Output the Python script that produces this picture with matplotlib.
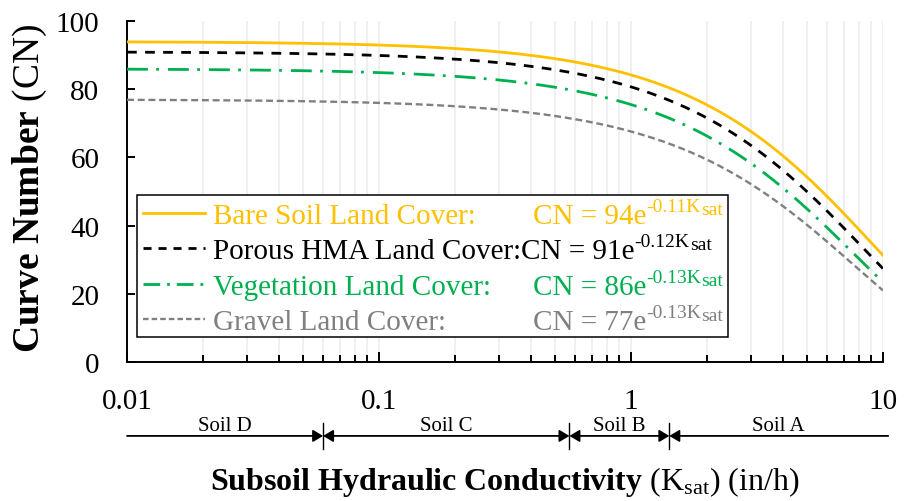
import numpy as np
import matplotlib
matplotlib.use('Agg')
import matplotlib.pyplot as plt
from matplotlib.patches import Rectangle
from matplotlib.ticker import FuncFormatter, NullFormatter, LogLocator

plt.rcParams['font.family'] = ['Liberation Serif', 'DejaVu Serif']
plt.rcParams['mathtext.fontset'] = 'custom'
plt.rcParams['mathtext.rm'] = 'Liberation Serif'
plt.rcParams['mathtext.it'] = 'Liberation Serif:italic'
plt.rcParams['mathtext.bf'] = 'Liberation Serif:bold'
plt.rcParams['lines.scale_dashes'] = False

# land covers and fitted curve coefficients CN = a * exp(-b * Ksat)
covers = ['Bare Soil Land Cover:', 'Porous HMA Land Cover:',
          'Vegetation Land Cover:', 'Gravel Land Cover:']
cn_coef = [94, 91, 86, 77]
k_coef = [0.11, 0.12, 0.13, 0.13]
colors = ['#FFC000', '#000000', '#00B050', '#808080']

# hydrologic soil groups along Ksat (in/h)
soil_names = ['Soil D', 'Soil C', 'Soil B', 'Soil A']
soil_bounds = [0.01, 0.06, 0.57, 1.42, 10.5]

ksat = np.logspace(-2, 1, 400)

line_styles = [
    dict(ls='-', lw=2.0),
    dict(ls=(0, (7, 6)), lw=2.0),
    dict(ls=(0, (15, 6, 2, 6.5)), lw=2.0),
    dict(ls=(0, (5, 2.7)), lw=1.7),
]
handle_styles = [
    dict(ls='-', lw=2.0),
    dict(ls=(0, (5.8, 5)), lw=2.0),
    dict(ls=(0, (12, 5, 2, 5)), lw=2.0),
    dict(ls=(0, (4, 2.2)), lw=1.7),
]

fig, ax = plt.subplots(figsize=(9.14, 5.02), dpi=100)
fig.subplots_adjust(left=0.139, right=0.966, bottom=0.277, top=0.956)

for a, b, c, st in zip(cn_coef, k_coef, colors, line_styles):
    ax.plot(ksat, a * np.exp(-b * ksat), color=c, **st, zorder=3)

ax.set_xscale('log')
ax.set_xlim(0.01, 10)
ax.set_ylim(0, 100)
ax.set_yticks([0, 20, 40, 60, 80, 100])
ax.xaxis.set_minor_locator(LogLocator(base=10, subs=np.arange(2, 10)))
ax.xaxis.set_major_formatter(FuncFormatter(lambda v, p: '{:g}'.format(v)))
ax.xaxis.set_minor_formatter(NullFormatter())
ax.grid(True, which='both', axis='x', color='#EBEBEB', lw=1.1)
ax.set_axisbelow(True)

for s in ['top', 'right']:
    ax.spines[s].set_visible(False)
for s in ['left', 'bottom']:
    ax.spines[s].set_linewidth(1.4)
ax.tick_params(axis='both', which='both', direction='in', width=1.4, labelsize=21)
ax.tick_params(axis='y', length=6, pad=20)
ax.tick_params(axis='x', which='major', length=7, pad=19)
ax.tick_params(axis='x', which='minor', length=5)

# legend box drawn by hand
ax.add_patch(Rectangle((0.0132, 0.0733), 0.782, 0.4164, transform=ax.transAxes,
                       facecolor='white', edgecolor='black', lw=1.1, zorder=5))
row_y = [0.437, 0.333, 0.229, 0.125]
for i in range(len(covers)):
    y = row_y[i]
    ax.plot([0.0212, 0.103], [y, y], transform=ax.transAxes, color=colors[i],
            **handle_styles[i], zorder=6, clip_on=False)
    lab = ax.text(0.1138, y - 0.029, covers[i], transform=ax.transAxes,
                  fontsize=21, color=colors[i], va='baseline', zorder=6)
    base = 'CN = {}e'.format(cn_coef[i])
    if i == 1:
        t = ax.annotate(base, xy=(1, 0), xycoords=lab, va='bottom',
                        fontsize=21, color=colors[i], zorder=6)
    else:
        t = ax.text(0.537, y - 0.029, base, transform=ax.transAxes,
                    fontsize=21, color=colors[i], va='baseline', zorder=6)
    sup = ax.annotate('-{:.2f}K'.format(k_coef[i]), xy=(1, 0), xycoords=t,
                      xytext=(0, 10), textcoords='offset points', va='bottom',
                      fontsize=14, color=colors[i], zorder=6)
    ax.annotate('sat', xy=(1, 0), xycoords=sup, xytext=(0, -2),
                textcoords='offset points', va='bottom',
                fontsize=14, color=colors[i], zorder=6)

# soil group bar under the axis
trans = ax.get_xaxis_transform()
y_bar = -0.217
n = len(soil_names)
for i, name in enumerate(soil_names):
    lo, hi = soil_bounds[i], soil_bounds[i + 1]
    if i == 0:
        style = '-|>'
    elif i == n - 1:
        style = '<|-'
    else:
        style = '<|-|>'
    ax.annotate('', xy=(hi, y_bar), xytext=(lo, y_bar), xycoords=trans,
                textcoords=trans, annotation_clip=False,
                arrowprops=dict(arrowstyle=style + ',head_length=0.6,head_width=0.36',
                                color='black', lw=1.3, shrinkA=0, shrinkB=0,
                                mutation_scale=10))
    ax.text(np.sqrt(lo * hi), -0.199, name, transform=trans, ha='center',
            va='baseline', fontsize=15)
for bnd in soil_bounds[1:-1]:
    ax.plot([bnd, bnd], [-0.179, -0.255], transform=trans, color='black',
            lw=1.0, clip_on=False)

fig.text(0.033, 0.625, r'$\bf{Curve\ Number}$ (CN)', rotation=90,
         ha='center', va='center', fontsize=27)
fig.text(0.5525, 0.040, r'$\bf{Subsoil\ Hydraulic\ Conductivity}$ (K$_{\rm sat}$) (in/h)',
         ha='center', va='center', fontsize=23)

fig.savefig('out.png', dpi=100)
